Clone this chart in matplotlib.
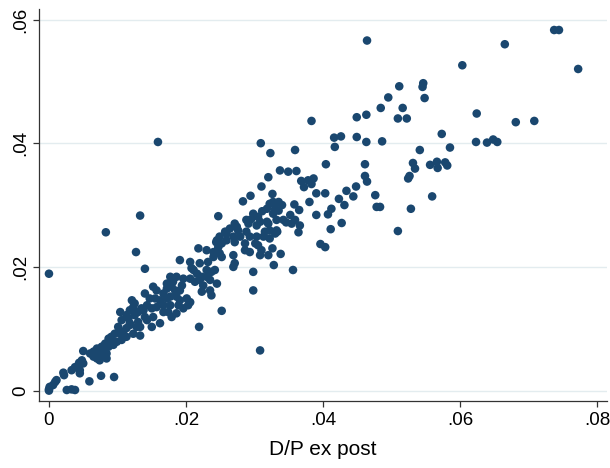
import matplotlib.pyplot as plt

# D/P ex post (x) vs. fitted D/P (y)
dp_expost = [
    0.0737, 0.0744, 0.0665, 0.0772, 0.0603, 0.0464, 0.0546, 0.0545, 0.0511, 0.0495,
    0.0484, 0.0516, 0.0509, 0.0522, 0.0548, 0.0624, 0.0681, 0.0708, 0.0573, 0.0486,
    0.0541, 0.0585, 0.0623, 0.0639, 0.0648, 0.0654, 0.0531, 0.0534, 0.0556, 0.0566,
    0.0567, 0.0578, 0.0581, 0.0524, 0.0526, 0.0559, 0.0528, 0.0509, 0.0483,
    0.0383, 0.0449, 0.0463, 0.0416, 0.0426, 0.0417, 0.0449, 0.0463, 0.0359, 0.0337,
    0.0349, 0.0361, 0.0404, 0.0461, 0.0461, 0.0464, 0.0368, 0.0378, 0.0386, 0.0372,
    0.0383, 0.0434, 0.0448, 0.0444, 0.0423, 0.0431, 0.0412, 0.0407, 0.0427, 0.0411,
    0.0476, 0.0478, 0.0309, 0.0323, 0.0320, 0.0310, 0.0390, 0.0403, 0.0390, 0.0396,
    0.0403, 0.0380, 0.0365, 0.0358, 0.0356, 0.0366, 0.0364, 0.0354, 0.0359, 0.0352,
    0.0342, 0.0346, 0.0332, 0.0318, 0.0333, 0.0338, 0.0328, 0.0326, 0.0308, 0.0320,
    0.0298, 0.0298, 0.0308,
    0.0326, 0.0327, 0.0322, 0.0335, 0.0340, 0.0330, 0.0335, 0.0318, 0.0311, 0.0305,
    0.0298, 0.0295, 0.0303, 0.0291, 0.0308, 0.0327, 0.0320, 0.0332, 0.0322, 0.0315,
    0.0313, 0.0322, 0.0330, 0.0283, 0.0294, 0.0247, 0.0288, 0.0274, 0.0264, 0.0276,
    0.0279, 0.0271, 0.0286, 0.0257, 0.0249, 0.0252, 0.0259, 0.0303, 0.0301, 0.0293,
    0.0269, 0.0269, 0.0247, 0.0244, 0.0230, 0.0240, 0.0252, 0.0232, 0.0230, 0.0242,
    0.0223, 0.0225, 0.0245, 0.0237, 0.0223,
    0.0288, 0.0293, 0.0305, 0.0310, 0.0286,
    0.0127, 0.0140, 0.0191, 0.0218, 0.0245, 0.0271, 0.0269, 0.0259, 0.0249, 0.0240,
    0.0206, 0.0208, 0.0220, 0.0237, 0.0230, 0.0220, 0.0213, 0.0235, 0.0271, 0.0235,
    0.0252, 0.0219,
    0.0177, 0.0181, 0.0186, 0.0194, 0.0196, 0.0191, 0.0184, 0.0179, 0.0172, 0.0167,
    0.0157, 0.0152, 0.0140, 0.0147, 0.0155, 0.0162, 0.0172, 0.0177, 0.0186, 0.0191,
    0.0201, 0.0203, 0.0196, 0.0206, 0.0189, 0.0177, 0.0167, 0.0157, 0.0150, 0.0143,
    0.0135, 0.0130, 0.0125, 0.0121, 0.0113, 0.0116, 0.0104, 0.0106, 0.0118, 0.0130,
    0.0143, 0.0152, 0.0167, 0.0174, 0.0186, 0.0179, 0.0162, 0.0150, 0.0133, 0.0133,
    0.0000, 0.0001, 0.0009, 0.0011, 0.0021, 0.0022, 0.0033, 0.0038, 0.0044, 0.0048,
    0.0050, 0.0043, 0.0026, 0.0033, 0.0038, 0.0059, 0.0076, 0.0095, 0.0050, 0.0060,
    0.0065, 0.0070, 0.0077, 0.0072, 0.0079, 0.0084, 0.0087, 0.0091, 0.0082, 0.0087,
    0.0091, 0.0096, 0.0104, 0.0108, 0.0101, 0.0113, 0.0118, 0.0118, 0.0123, 0.0125,
    0.0138, 0.0140, 0.0106, 0.0099, 0.0094, 0.0084, 0.0079, 0.0123, 0.0128, 0.0113,
    0.0065, 0.0070, 0.0074, 0.0006, 0.0045, 0.0045, 0.0000,
    0.0000, 0.0083, 0.0133, 0.0159, 0.0216, 0.0206, 0.0172, 0.0211,
]

dp_fitted = [
    0.0583, 0.0583, 0.0560, 0.0520, 0.0526, 0.0566, 0.0497, 0.0491, 0.0492, 0.0474,
    0.0457, 0.0457, 0.0440, 0.0440, 0.0473, 0.0448, 0.0434, 0.0436, 0.0415, 0.0403,
    0.0389, 0.0393, 0.0402, 0.0401, 0.0406, 0.0402, 0.0368, 0.0359, 0.0365, 0.0370,
    0.0360, 0.0369, 0.0364, 0.0343, 0.0347, 0.0314, 0.0294, 0.0258, 0.0297,
    0.0436, 0.0442, 0.0446, 0.0409, 0.0411, 0.0394, 0.0410, 0.0402, 0.0389, 0.0356,
    0.0354, 0.0355, 0.0366, 0.0366, 0.0347, 0.0338, 0.0339, 0.0340, 0.0343, 0.0329,
    0.0334, 0.0323, 0.0330, 0.0314, 0.0310, 0.0300, 0.0294, 0.0285, 0.0271, 0.0261,
    0.0316, 0.0297, 0.0400, 0.0384, 0.0345, 0.0330, 0.0319, 0.0319, 0.0284, 0.0237,
    0.0232, 0.0305, 0.0292, 0.0301, 0.0195, 0.0267, 0.0256, 0.0270, 0.0276, 0.0284,
    0.0276, 0.0272, 0.0276, 0.0273, 0.0257, 0.0221, 0.0203, 0.0230, 0.0219, 0.0219,
    0.0192, 0.0162, 0.0065,
    0.0318, 0.0305, 0.0302, 0.0305, 0.0300, 0.0294, 0.0291, 0.0294, 0.0290, 0.0281,
    0.0286, 0.0277, 0.0267, 0.0270, 0.0273, 0.0286, 0.0270, 0.0259, 0.0259, 0.0257,
    0.0249, 0.0246, 0.0254, 0.0306, 0.0315, 0.0282, 0.0276, 0.0265, 0.0262, 0.0259,
    0.0249, 0.0240, 0.0238, 0.0257, 0.0249, 0.0238, 0.0254, 0.0249, 0.0238, 0.0224,
    0.0219, 0.0200, 0.0232, 0.0240, 0.0227, 0.0216, 0.0216, 0.0208, 0.0195, 0.0195,
    0.0184, 0.0170, 0.0173, 0.0154, 0.0160,
    0.0257, 0.0249, 0.0235, 0.0227, 0.0227,
    0.0224, 0.0197, 0.0211, 0.0230, 0.0243, 0.0270, 0.0249, 0.0243, 0.0222, 0.0224,
    0.0208, 0.0198, 0.0206, 0.0192, 0.0184, 0.0179, 0.0176, 0.0179, 0.0206, 0.0162,
    0.0129, 0.0103,
    0.0184, 0.0176, 0.0184, 0.0170, 0.0181, 0.0162, 0.0162, 0.0168, 0.0165, 0.0157,
    0.0162, 0.0168, 0.0157, 0.0149, 0.0149, 0.0146, 0.0149, 0.0152, 0.0152, 0.0146,
    0.0149, 0.0138, 0.0133, 0.0143, 0.0138, 0.0138, 0.0138, 0.0135, 0.0133, 0.0138,
    0.0133, 0.0127, 0.0122, 0.0146, 0.0122, 0.0117, 0.0127, 0.0114, 0.0109, 0.0111,
    0.0114, 0.0119, 0.0127, 0.0127, 0.0125, 0.0119, 0.0109, 0.0103, 0.0103, 0.0089,
    0.0002, 0.0006, 0.0014, 0.0017, 0.0029, 0.0025, 0.0033, 0.0038, 0.0045, 0.0049,
    0.0044, 0.0036, 0.0001, 0.0002, 0.0001, 0.0015, 0.0024, 0.0022, 0.0064, 0.0060,
    0.0063, 0.0068, 0.0071, 0.0057, 0.0065, 0.0060, 0.0071, 0.0076, 0.0076, 0.0084,
    0.0087, 0.0092, 0.0092, 0.0095, 0.0103, 0.0101, 0.0106, 0.0130, 0.0135, 0.0141,
    0.0130, 0.0119, 0.0082, 0.0079, 0.0074, 0.0052, 0.0055, 0.0092, 0.0103, 0.0087,
    0.0055, 0.0052, 0.0049, 0.0009, 0.0033, 0.0028, 0.0000,
    0.0189, 0.0256, 0.0283, 0.0402, 0.0189, 0.0181, 0.0173, 0.0195,
]

x_ticks = [0, 0.02, 0.04, 0.06, 0.08]
x_labels = ["0", ".02", ".04", ".06", ".08"]
y_ticks = [0, 0.02, 0.04, 0.06]
y_labels = ["0", ".02", ".04", ".06"]

MARKER = "#1a476f"
GRID = "#e3ecef"

plt.rcParams["font.family"] = ["Liberation Sans", "DejaVu Sans"]

fig = plt.figure(figsize=(6.1, 4.68), dpi=100)
ax = fig.add_axes([0.0634, 0.1442, 0.9316, 0.8366])

ax.scatter(dp_expost, dp_fitted, s=38, color=MARKER, edgecolors="none", zorder=3)

ax.set_xlim(-0.0015, 0.0814)
ax.set_ylim(-0.0016, 0.0617)
ax.set_xticks(x_ticks)
ax.set_xticklabels(x_labels)
ax.set_yticks(y_ticks)
ax.set_yticklabels(y_labels, rotation=90, va="center")

ax.grid(axis="y", color=GRID, lw=1.0, zorder=0)
ax.set_axisbelow(True)
for side in ["top", "right"]:
    ax.spines[side].set_visible(False)
for side in ["left", "bottom"]:
    ax.spines[side].set_color("#333333")
    ax.spines[side].set_linewidth(0.9)

ax.tick_params(axis="both", direction="out", length=4.5, width=0.9,
               color="#333333", labelsize=13.5, pad=4)
ax.tick_params(axis="y", pad=2)
ax.set_xlabel("D/P ex post", fontsize=15, labelpad=8)

fig.savefig("out.png", dpi=100)
